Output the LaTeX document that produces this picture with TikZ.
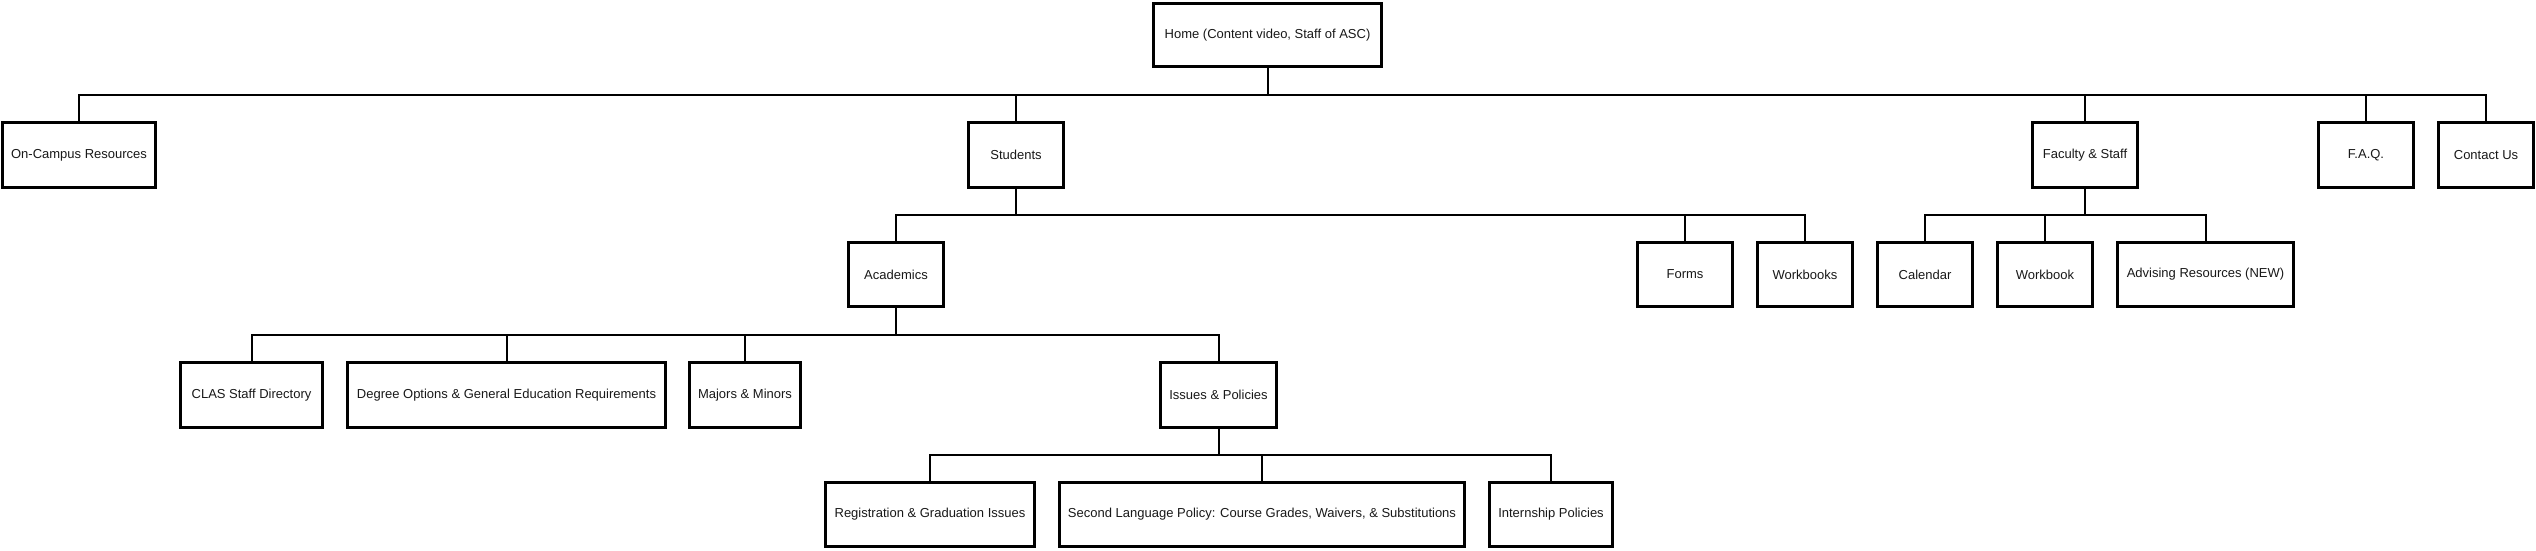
\documentclass[tikz,border=0pt]{standalone}
\usepackage{fontspec}
\setmainfont{Liberation Sans}
\begin{document}
\begin{tikzpicture}[x=1pt,y=-1pt,
  box/.style={draw=black, line width=2.6pt, fill=white, rectangle, inner sep=0pt,
    font=\fontsize{13}{15}\selectfont, text=black!90},
  conn/.style={draw=black, line width=2pt}]
\useasboundingbox (0,0) rectangle (2536,550);
% level 0
\node[box, minimum width=228, minimum height=63] (home) at (1267.5,35) {Home (Content video, Staff of ASC)};
% level 1
\node[box, minimum width=153, minimum height=65] (oncampus) at (79,155) {On-Campus Resources};
\node[box, minimum width=95, minimum height=65] (students) at (1016,155) {Students};
\node[box, minimum width=105, minimum height=65] (faculty) at (2085,155) {Faculty \& Staff};
\node[box, minimum width=95, minimum height=65] (faq) at (2366,155) {F.A.Q.};
\node[box, minimum width=95, minimum height=65] (contact) at (2486,155) {Contact Us};
% level 2
\node[box, minimum width=95, minimum height=64] (academics) at (896,274.5) {Academics};
\node[box, minimum width=95, minimum height=64] (forms) at (1685,274.5) {Forms};
\node[box, minimum width=95, minimum height=64] (workbooks) at (1805,274.5) {Workbooks};
\node[box, minimum width=95, minimum height=64] (calendar) at (1925,274.5) {Calendar};
\node[box, minimum width=95, minimum height=64] (workbook) at (2045,274.5) {Workbook};
\node[box, minimum width=176, minimum height=64] (advising) at (2205.5,274.5) {Advising Resources (NEW)};
% level 3
\node[box, minimum width=142, minimum height=65] (clas) at (251.5,395) {CLAS Staff Directory};
\node[box, minimum width=318, minimum height=65] (degree) at (506.5,395) {Degree Options \& General Education Requirements};
\node[box, minimum width=111, minimum height=65] (majors) at (745,395) {Majors \& Minors};
\node[box, minimum width=116, minimum height=65] (issues) at (1218.5,395) {Issues \& Policies};
% level 4
\node[box, minimum width=209, minimum height=64] (registration) at (930,514.5) {Registration \& Graduation Issues};
\node[box, minimum width=405, minimum height=64] (second) at (1262,514.5) {Second Language Policy: Course Grades, Waivers, \& Substitutions};
\node[box, minimum width=123, minimum height=64] (internship) at (1551,514.5) {Internship Policies};
% rail coordinates
\coordinate (r1) at (0,95);
\coordinate (r2) at (0,215);
\coordinate (r3) at (0,335);
\coordinate (r4) at (0,455);
% home children
\draw[conn] (oncampus.north) -- (oncampus.north |- r1) -- (contact.north |- r1) -- (contact.north);
\draw[conn] (home.south) -- (home.south |- r1);
\draw[conn] (students.north) -- (students.north |- r1);
\draw[conn] (faculty.north) -- (faculty.north |- r1);
\draw[conn] (faq.north) -- (faq.north |- r1);
% students children
\draw[conn] (academics.north) -- (academics.north |- r2) -- (workbooks.north |- r2) -- (workbooks.north);
\draw[conn] (students.south) -- (students.south |- r2);
\draw[conn] (forms.north) -- (forms.north |- r2);
% faculty children
\draw[conn] (calendar.north) -- (calendar.north |- r2) -- (advising.north |- r2) -- (advising.north);
\draw[conn] (faculty.south) -- (faculty.south |- r2);
\draw[conn] (workbook.north) -- (workbook.north |- r2);
% academics children
\draw[conn] (clas.north) -- (clas.north |- r3) -- (issues.north |- r3) -- (issues.north);
\draw[conn] (academics.south) -- (academics.south |- r3);
\draw[conn] (degree.north) -- (degree.north |- r3);
\draw[conn] (majors.north) -- (majors.north |- r3);
% issues children
\draw[conn] (registration.north) -- (registration.north |- r4) -- (internship.north |- r4) -- (internship.north);
\draw[conn] (issues.south) -- (issues.south |- r4);
\draw[conn] (second.north) -- (second.north |- r4);
\end{tikzpicture}
\end{document}
